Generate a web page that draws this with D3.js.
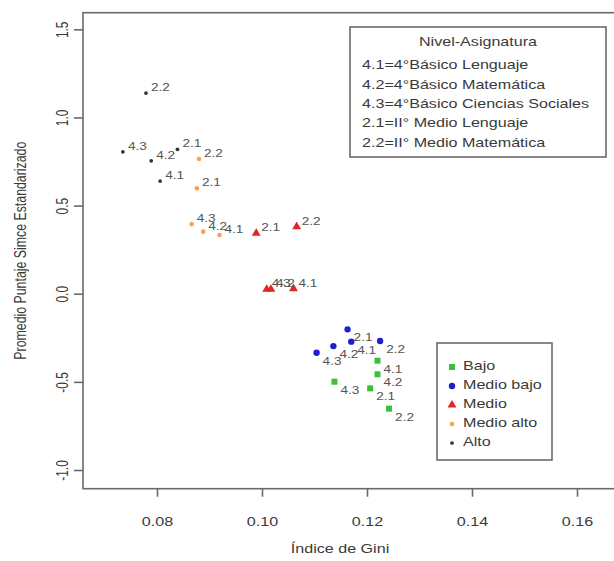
<!DOCTYPE html>
<html>
<head>
<meta charset="utf-8">
<script src="https://cdn.jsdelivr.net/npm/d3@7"></script>
<style>
  html, body { margin: 0; padding: 0; background: #fff; }
  svg { display: block; font-family: "Liberation Sans", Arial, sans-serif; }
</style>
</head>
<body>
<svg id="chart" width="614" height="561"></svg>
<script>
// Subject codes (nivel-asignatura), in the order of every series below
const codes = ["4.1", "4.2", "4.3", "2.1", "2.2"];

// Socio-economic groups
const levels = ["Bajo", "Medio bajo", "Medio", "Medio alto", "Alto"];

// Gini index per group, one value per code
const giniBajo      = [0.1220, 0.1220, 0.1138, 0.1206, 0.1242];
const giniMedioBajo = [0.1170, 0.1136, 0.1104, 0.1163, 0.1225];
const giniMedio     = [0.1060, 0.1017, 0.1009, 0.0989, 0.1066];
const giniMedioAlto = [0.0919, 0.0888, 0.0866, 0.0876, 0.0880];
const giniAlto      = [0.0806, 0.0789, 0.0735, 0.0839, 0.0779];

// Standardised mean SIMCE score per group, one value per code
const simceBajo      = [-0.380, -0.457, -0.499, -0.537, -0.652];
const simceMedioBajo = [-0.272, -0.297, -0.335, -0.202, -0.268];
const simceMedio     = [0.029, 0.025, 0.025, 0.343, 0.380];
const simceMedioAlto = [0.333, 0.352, 0.395, 0.598, 0.764];
const simceAlto      = [0.639, 0.754, 0.805, 0.819, 1.138];

// Axis ticks
const xTicks = [0.08, 0.10, 0.12, 0.14, 0.16];
const yTicks = [-1.0, -0.5, 0.0, 0.5, 1.0, 1.5];

// Key for the subject codes
const keyTitle = "Nivel-Asignatura";
const keyLines = [
  "4.1=4°Básico Lenguaje",
  "4.2=4°Básico Matemática",
  "4.3=4°Básico Ciencias Sociales",
  "2.1=II° Medio Lenguaje",
  "2.2=II° Medio Matemática"
];

const giniByLevel  = [giniBajo, giniMedioBajo, giniMedio, giniMedioAlto, giniAlto];
const simceByLevel = [simceBajo, simceMedioBajo, simceMedio, simceMedioAlto, simceAlto];

const points = [];
levels.forEach((lvl, i) => {
  codes.forEach((c, j) => {
    points.push({ level: lvl, li: i, code: c, gini: giniByLevel[i][j], simce: simceByLevel[i][j] });
  });
});

// Marker styling per group
const style = {
  "Bajo":       { shape: d3.symbolSquare,   size: 36, color: "#3cbf3c" },
  "Medio bajo": { shape: d3.symbolCircle,   size: 32, color: "#1e1ed2" },
  "Medio":      { shape: d3.symbolTriangle, size: 34, color: "#e02626" },
  "Medio alto": { shape: d3.symbolCircle,   size: 17, color: "#f7a352" },
  "Alto":       { shape: d3.symbolCircle,   size: 11, color: "#333333" }
};

// Horizontal text is drawn slightly widened
const SX = 1.24;

const svg = d3.select("#chart");
svg.append("rect").attr("width", 614).attr("height", 561).attr("fill", "#fff");

const plot = { left: 83, top: 12.7, right: 640, bottom: 488.7 };

const x = d3.scaleLinear().domain([0.08, 0.16]).range([157, 577]);
const y = d3.scaleLinear().domain([-1.0, 1.5]).range([470, 29.3]);

const axisColor = "#6a6a6a";
const textColor = "#3a3a3a";

// Places a widened horizontal text at (px, py)
function wideText(parent, px, py, str, opts = {}) {
  return parent.append("text")
    .attr("transform", `translate(${px},${py}) scale(${SX},1)`)
    .attr("text-anchor", opts.anchor || "start")
    .attr("dominant-baseline", "middle")
    .attr("font-size", opts.size || 13)
    .attr("fill", opts.fill || textColor)
    .text(str);
}

// Plot frame
svg.append("rect")
  .attr("x", plot.left).attr("y", plot.top)
  .attr("width", plot.right - plot.left).attr("height", plot.bottom - plot.top)
  .attr("fill", "none").attr("stroke", axisColor).attr("stroke-width", 1.6);

// X axis
const gx = svg.append("g")
  .attr("transform", `translate(0,${plot.bottom})`)
  .call(d3.axisBottom(x).tickValues(xTicks).tickSize(8).tickPadding(20)
    .tickFormat(d => d.toFixed(2)));
gx.select(".domain").remove();
gx.selectAll(".tick line").attr("stroke", axisColor).attr("stroke-width", 1.6);
gx.selectAll(".tick text").attr("fill", textColor).attr("font-size", 13)
  .attr("font-family", "Liberation Sans, Arial, sans-serif")
  .attr("transform", `scale(${SX},1)`);

// Y axis with rotated labels
const gy = svg.append("g")
  .attr("transform", `translate(${plot.left},0)`)
  .call(d3.axisLeft(y).tickValues(yTicks).tickSize(9).tickFormat(d => d.toFixed(1)));
gy.select(".domain").remove();
gy.selectAll(".tick line").attr("stroke", axisColor).attr("stroke-width", 1.6);
gy.selectAll(".tick text")
  .attr("fill", textColor).attr("font-size", 13)
  .attr("font-family", "Liberation Sans, Arial, sans-serif")
  .attr("x", null).attr("dy", null)
  .attr("text-anchor", "middle")
  .attr("dominant-baseline", "middle")
  .attr("transform", "translate(-19,0) rotate(-90) scale(0.92,1.2)");

// Axis titles
wideText(svg, 340, 550, "Índice de Gini", { anchor: "middle" });

svg.append("text")
  .attr("transform", `translate(22,${(plot.top + plot.bottom) / 2}) rotate(-90) scale(0.95,1.2)`)
  .attr("text-anchor", "middle").attr("dominant-baseline", "middle")
  .attr("font-size", 13).attr("fill", textColor)
  .text("Promedio Puntaje Simce Estandarizado");

// Points
svg.append("g").selectAll("path")
  .data(points)
  .join("path")
  .attr("transform", d => `translate(${x(d.gini)},${y(d.simce)})`)
  .attr("d", d => d3.symbol().type(style[d.level].shape).size(style[d.level].size)())
  .attr("fill", d => style[d.level].color);

// Code labels: above-right for the upper groups, below-right for the two lowest
const labels = svg.append("g");
points.forEach(d => {
  wideText(labels,
    x(d.gini) + (d.li < 2 ? 6 : 5),
    y(d.simce) + (d.li < 2 ? 9 : -5),
    d.code, { size: 11, fill: "#555" });
});

// Key for the subject codes
const k1 = { x: 350, y: 27, w: 256, h: 130 };
svg.append("rect")
  .attr("x", k1.x).attr("y", k1.y).attr("width", k1.w).attr("height", k1.h)
  .attr("fill", "#fff").attr("stroke", axisColor).attr("stroke-width", 1.6);
wideText(svg, k1.x + k1.w / 2, k1.y + 16, keyTitle, { anchor: "middle" });
keyLines.forEach((line, i) => {
  wideText(svg, k1.x + 12, k1.y + 39 + i * 19.3, line);
});

// Legend for the groups
const k2 = { x: 437, y: 343, w: 115, h: 117 };
svg.append("rect")
  .attr("x", k2.x).attr("y", k2.y).attr("width", k2.w).attr("height", k2.h)
  .attr("fill", "#fff").attr("stroke", axisColor).attr("stroke-width", 1.6);
levels.forEach((lvl, i) => {
  const g = svg.append("g")
    .attr("transform", `translate(${k2.x + 15},${k2.y + 24 + i * 19})`);
  g.append("path")
    .attr("d", d3.symbol().type(style[lvl].shape).size(style[lvl].size)())
    .attr("fill", style[lvl].color);
  wideText(g, 11, 0, lvl);
});
</script>
</body>
</html>
